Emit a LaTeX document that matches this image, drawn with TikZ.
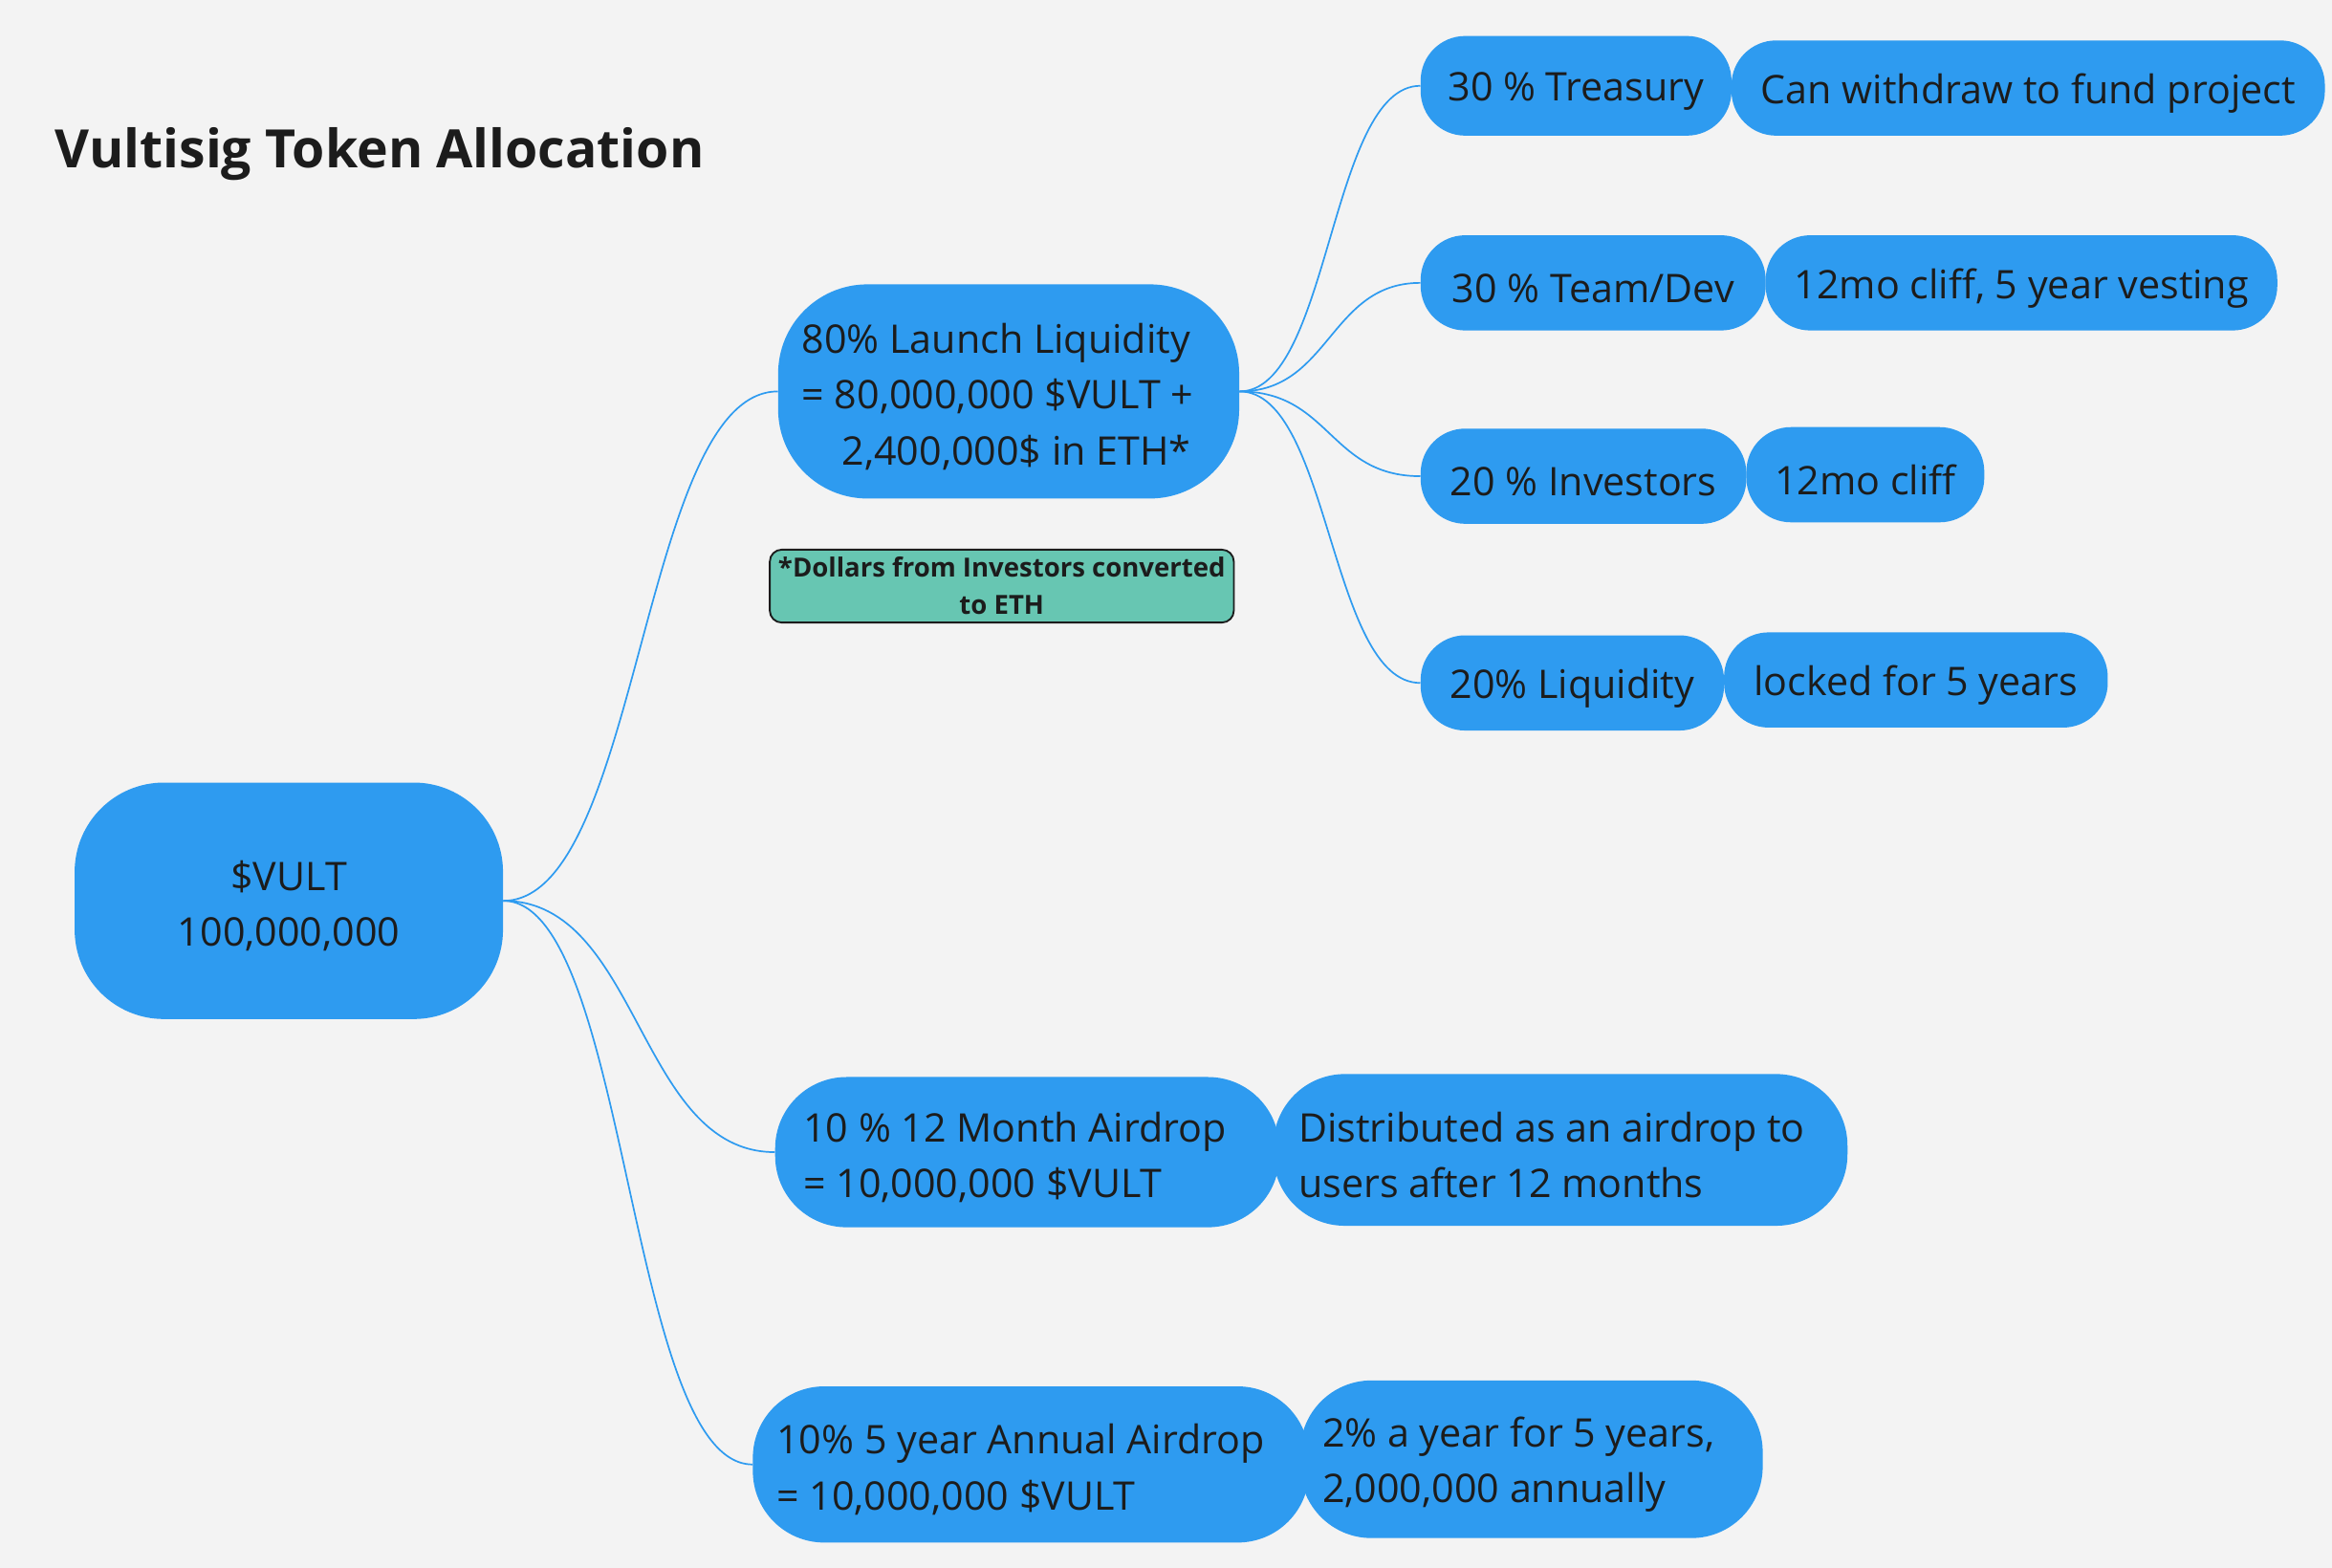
\documentclass[tikz,border=0pt]{standalone}
\usepackage{fontspec}
\setmainfont{Open Sans}
\definecolor{vbg}{HTML}{F3F3F3}
\definecolor{vblue}{HTML}{2E9BF0}
\definecolor{vtext}{HTML}{1C1C1C}
\definecolor{vteal}{HTML}{67C6B2}
\newcommand{\nodefont}{\fontsize{26.5}{37.5}\selectfont}
\tikzset{
  pill/.style={fill=vblue, rounded corners=30pt, inner sep=0pt, anchor=north west},
  lbl/.style={inner sep=0pt, text=vtext, font=\nodefont, yshift=-3.5pt},
  clbl/.style={label={[lbl, align=center]center:#1}},
  llbl/.style args={#1/#2}{label={[lbl, anchor=west, align=left, xshift=#1pt]west:#2}},
  link/.style={draw=vblue, line width=1.1pt},
}
\begin{document}
\begin{tikzpicture}[x=1pt,y=-1pt]
\useasboundingbox (0,0) rectangle (1568,1054);
\fill[vbg] (0,0) rectangle (1568,1054);

\node[anchor=base west, inner sep=0pt, text=vtext, font=\fontsize{35.6}{42}\selectfont\bfseries] (title) at (37,113) {Vultisig Token Allocation};

% root
\node[pill, rounded corners=60pt, minimum width=288pt, minimum height=159pt,
  clbl={\$VULT\\100,000,000}] (root) at (50,526) {};

% level 1
\node[pill, rounded corners=60pt, minimum width=310pt, minimum height=144pt,
  llbl={16/{80\% Launch Liquidity\\= 80,000,000 \$VULT +\\\hspace*{27pt}2,400,000\$ in ETH*}}] (lau) at (523,191) {};
\node[pill, rounded corners=48pt, minimum width=339pt, minimum height=101pt,
  llbl={19/{10 \% 12 Month Airdrop\\= 10,000,000 \$VULT}}] (air12) at (521,724) {};
\node[pill, rounded corners=48pt, minimum width=374pt, minimum height=105pt,
  llbl={16/{10\% 5 year Annual Airdrop\\= 10,000,000 \$VULT}}] (air5) at (506,932) {};

% note
\node[draw=vtext, line width=1.2pt, fill=vteal, rounded corners=8pt, anchor=north west, inner sep=0pt,
  minimum width=312pt, minimum height=49pt, align=center, text=vtext,
  font=\fontsize{17.7}{25}\selectfont\bfseries] (note) at (517,369) {*Dollars from Investors converted\\to ETH};

% level 2
\node[pill, minimum width=209pt, minimum height=67pt, clbl={30 \% Treasury}] (tre) at (955,24) {};
\node[pill, minimum width=232pt, minimum height=64pt, clbl={30 \% Team/Dev}] (team) at (955,158) {};
\node[pill, minimum width=219pt, minimum height=64pt, clbl={20 \% Investors}] (inv) at (955,288) {};
\node[pill, minimum width=204pt, minimum height=64pt, clbl={20\% Liquidity}] (liq) at (955,427) {};

% details
\node[pill, minimum width=399pt, minimum height=64pt, clbl={Can withdraw to fund project}] (treD) at (1164,27) {};
\node[pill, minimum width=344pt, minimum height=64pt, clbl={12mo cliff, 5 year vesting}] (teamD) at (1187,158) {};
\node[pill, minimum width=160pt, minimum height=64pt, clbl={12mo cliff}] (invD) at (1174,287) {};
\node[pill, minimum width=258pt, minimum height=64pt, clbl={locked for 5 years}] (liqD) at (1159,425) {};
\node[pill, rounded corners=48pt, minimum width=386pt, minimum height=102pt,
  llbl={17/{Distributed as an airdrop to\\users after 12 months}}] (air12D) at (856,722) {};
\node[pill, rounded corners=48pt, minimum width=311pt, minimum height=106pt,
  llbl={15/{2\% a year for 5 years,\\2,000,000 annually}}] (air5D) at (874,928) {};

% connectors
\draw[link] (root.east) .. controls +(92,0) and +(-92,0) .. (lau.west);
\draw[link] (root.east) .. controls +(92,0) and +(-92,0) .. (air12.west);
\draw[link] (root.east) .. controls +(84,0) and +(-84,0) .. (air5.west);
\draw[link] (lau.east) .. controls +(61,0) and +(-61,0) .. (tre.west);
\draw[link] (lau.east) .. controls +(61,0) and +(-61,0) .. (team.west);
\draw[link] (lau.east) .. controls +(61,0) and +(-61,0) .. (inv.west);
\draw[link] (lau.east) .. controls +(61,0) and +(-61,0) .. (liq.west);
\end{tikzpicture}
\end{document}
